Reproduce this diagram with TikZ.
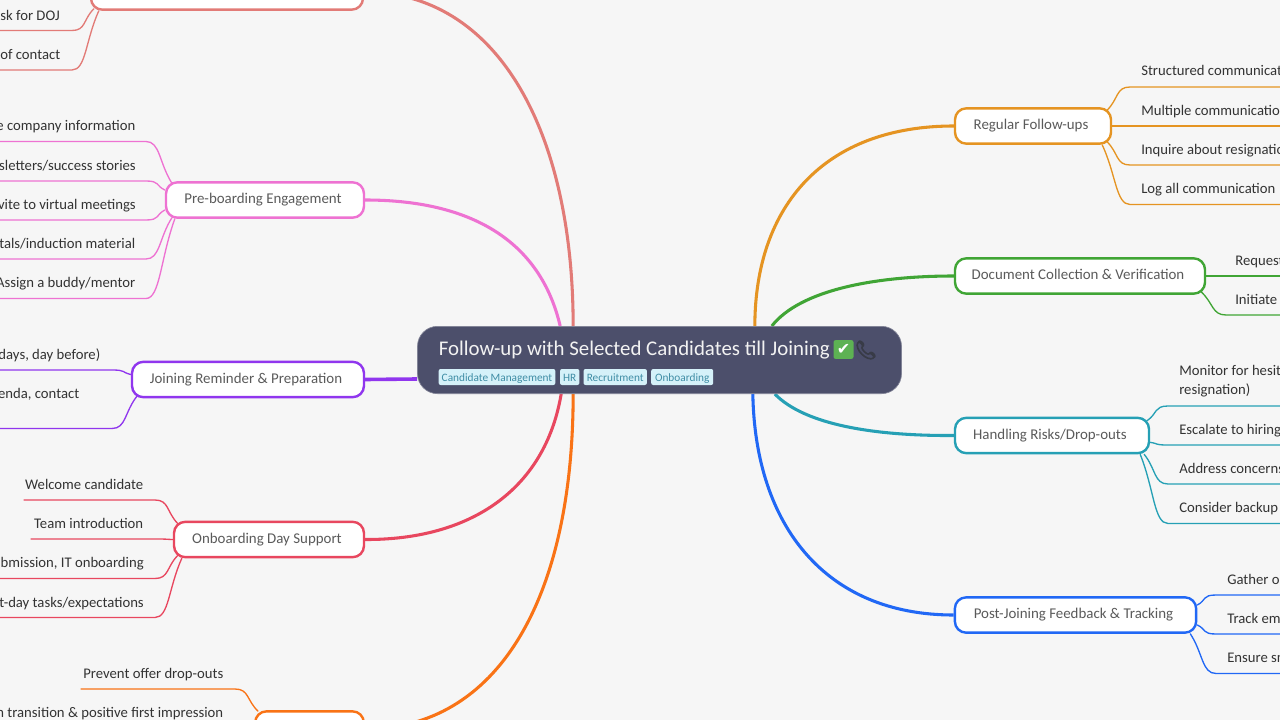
\documentclass[tikz,border=0pt]{standalone}
\usepackage{fontspec}
\setmainfont{Carlito}[Scale=1.04]
\newfontfamily\emo{Noto Emoji}
\newfontfamily\dej{DejaVu Sans}[Scale=1]
\usetikzlibrary{calc,backgrounds}
\definecolor{bgc}{HTML}{F6F6F6}
\definecolor{cen}{HTML}{4C4F6B}
\definecolor{chipf}{HTML}{D5F1F9}
\definecolor{chipt}{HTML}{3F8DA5}
\definecolor{ntxt}{HTML}{5A5A5A}
\definecolor{ltxt}{HTML}{333333}
\definecolor{csal}{HTML}{E27B77}
\definecolor{cpnk}{HTML}{EE72D2}
\definecolor{cpur}{HTML}{9036EE}
\definecolor{cred}{HTML}{E8475F}
\definecolor{cora}{HTML}{F97316}
\definecolor{camb}{HTML}{E59422}
\definecolor{cgrn}{HTML}{40A535}
\definecolor{ctea}{HTML}{26A0B5}
\definecolor{cblu}{HTML}{2168F5}
\tikzset{
  x=0.75pt,y=-0.75pt,
  branch/.style={draw=#1,fill=white,line width=1.8pt,rounded corners=8.5pt,inner sep=0pt,text=ntxt,font=\fontsize{10.75pt}{13pt}\selectfont,minimum height=26.5pt,text height=8pt,text depth=2.5pt,execute at end node={\hspace{3pt}}},
  kidline/.style={draw=#1,line width=1pt,line cap=round},
  trunk/.style={draw=#1,line width=2.3pt},
  leafl/.style={anchor=east,inner sep=0pt,text=ltxt,yshift=-1.4pt,text height=8pt,text depth=2.8pt,font=\fontsize{10.6pt}{14.4pt}\selectfont},
  leafr/.style={anchor=west,inner sep=0pt,text=ltxt,yshift=-1.4pt,text height=8pt,text depth=2.8pt,font=\fontsize{10.6pt}{14.4pt}\selectfont},
  chip/.style={fill=chipf,text=chipt,rounded corners=1.5pt,inner sep=0pt,minimum height=12pt,text height=8pt,text depth=1.2pt,font=\fontsize{8.15pt}{10pt}\selectfont},
}
% colour, start, bend x, y, far x, end name
\newcommand{\kid}[6]{%
  \coordinate (#6) at (#5,#4);
  \coordinate (#6b) at (#3,#4);
  \coordinate (#6s) at #2;
  \pgfmathsetmacro{\dirsign}{#5>#3?1:-1}
  \draw[kidline=#1] (#6s) .. controls ($(#6s)!0.5!(#6b)$) and ($(#6b)+(-14*\dirsign,0)$) .. (#6b) -- (#6);}
\begin{document}
\begin{tikzpicture}
\useasboundingbox (0,0) rectangle (1280,720);

% centre
\node[fill=cen,draw=cen!70!white,line width=0.5pt,rounded corners=15pt,minimum width=363pt,minimum height=50.5pt,inner sep=0pt] (root) at (659.5,360) {};
\node[anchor=west,inner sep=0pt,text=white!95!black,font=\fontsize{15.05pt}{18pt}\selectfont] (title) at (438.5,349.7) {Follow-up with Selected Candidates till Joining};
\node[fill=cgrn!85!white,rounded corners=1.5pt,minimum width=15pt,minimum height=14pt,inner sep=0pt,text=white,font=\dej\fontsize{12pt}{12pt}\selectfont] (chk) at (843.5,349.5) {✔};
\node[inner sep=0pt,font=\emo\fontsize{13.5pt}{15pt}\selectfont] (phone) at (866,350) {\special{pdf:code q 2 Tr 0.7 w 0.22 0.23 0.28 RG 0.22 0.23 0.28 rg}📞\special{pdf:code Q}};
\node[chip,minimum width=87.5pt] (t1) at (497,377) {Candidate Management};
\node[chip,minimum width=14.5pt] (t2) at (569.7,377) {HR};
\node[chip,minimum width=47.5pt] (t3) at (615.2,377) {Recruitment};
\node[chip,minimum width=46.5pt] (t4) at (682.2,377) {Onboarding};

% branch nodes, right
\node[branch=camb,minimum width=117pt] (reg) at (1033,126) {Regular Follow-ups};
\node[branch=cgrn,minimum width=187.5pt] (doc) at (1080,276) {Document Collection \& Verification};
\node[branch=ctea,minimum width=145.5pt] (risk) at (1052,435.5) {Handling Risks/Drop-outs};
\node[branch=cblu,minimum width=181pt] (post) at (1075.5,615) {Post-Joining Feedback \& Tracking};
% branch nodes, left
\node[branch=csal,minimum width=204pt] (top) at (227,-8) {};
\node[branch=cpnk,minimum width=148.5pt] (pre) at (265,200) {Pre-boarding Engagement};
\node[branch=cpur,minimum width=174pt] (join) at (248,379.5) {Joining Reminder \& Preparation};
\node[branch=cred,minimum width=142.5pt] (onb) at (269,539.5) {Onboarding Day Support};
\node[branch=cora,minimum width=81.5pt] (goal) at (309.5,729) {};

% leaf texts
\node[leafr] (a1) at (1141,70.5) {Structured communicat};
\node[leafr] (a2) at (1141,110) {Multiple communicatio};
\node[leafr] (a3) at (1141,149) {Inquire about resignatio};
\node[leafr] (a4) at (1141,188.5) {Log all communication};
\node[leafr] (b1) at (1235,260) {Request};
\node[leafr] (b2) at (1235,299) {Initiate};
\node[leafr] (c1) at (1179,370.5) {Monitor for hesita};
\node[leafr] (c1b) at (1179,389.5) {resignation)};
\node[leafr] (c2) at (1179,429) {Escalate to hiring};
\node[leafr] (c3) at (1179,468.5) {Address concerns};
\node[leafr] (c4) at (1179,507.5) {Consider backup};
\node[leafr] (d1) at (1227,579) {Gather or};
\node[leafr] (d2) at (1227,618) {Track em};
\node[leafr] (d3) at (1227,657.5) {Ensure sm};
\node[leafl] (e1) at (60,15) {ask for DOJ};
\node[leafl] (e2) at (60.5,54) {of contact};
\node[leafl] (f1) at (135.5,125.5) {e company information};
\node[leafl] (f2) at (136,165) {sletters/success stories};
\node[leafl] (f3) at (136,204) {vite to virtual meetings};
\node[leafl] (f4) at (135.5,243.5) {tals/induction material};
\node[leafl] (f5) at (135.5,282.5) {Assign a buddy/mentor};
\node[leafl] (g1) at (100.5,354) {days, day before)};
\node[leafl] (g2) at (79.5,393.5) {enda, contact};
\node[leafl] (h1) at (143.5,484) {Welcome candidate};
\node[leafl] (h2) at (143.5,523.5) {Team introduction};
\node[leafl] (h3) at (144,562.5) {bmission, IT onboarding};
\node[leafl] (h4) at (144,602) {t-day tasks/expectations};
\node[leafl] (i1) at (223.5,673.5) {Prevent offer drop-outs};
\node[leafl] (i2) at (223.5,712.5) {n transition \& positive first impression};

\begin{pgfonlayer}{background}
\fill[bgc] (0,0) rectangle (1280,720);
% trunks
\draw[trunk=camb] ($(root.north east)+(-147,0)$) .. controls (755,205) and (825,126) .. (reg.west);
\draw[trunk=cgrn] ($(root.north east)+(-130,0)$) .. controls (800,290) and (875,276) .. (doc.west);
\draw[trunk=ctea] ($(root.south east)+(-127,0)$) .. controls (805,425) and (875,436) .. (risk.west);
\draw[trunk=cblu] ($(root.south east)+(-149,0)$) .. controls (755,525) and (825,615) .. (post.west);
\draw[trunk=csal] ($(root.north west)+(156,0)$) .. controls (573,130) and (497,-8) .. (top.east);
\draw[trunk=cpnk] ($(root.north west)+(143,0)$) .. controls (540,240) and (470,200) .. (pre.east);
\draw[trunk=cpur,line width=2.7pt] (join.east) -- ($(root.west)+(0,19)$);
\draw[trunk=cred] ($(root.south west)+(144,0)$) .. controls (545,490) and (470,540) .. (onb.east);
\draw[trunk=cora] ($(root.south west)+(156,0)$) .. controls (573,600) and (497,729) .. (goal.east);
% children
\kid{camb}{($(reg.north east)+(-5,3)$)}{1130}{87}{1285}{ea1}
\kid{camb}{(reg.east)}{1130}{126}{1285}{ea2}
\kid{camb}{($(reg.south east)+(-5,-3)$)}{1130}{165}{1285}{ea3}
\kid{camb}{($(reg.south east)+(-10,0)$)}{1130}{204.5}{1285}{ea4}
\kid{cgrn}{(doc.east)}{1226}{276}{1285}{eb1}
\kid{cgrn}{($(doc.south east)+(-5,-3)$)}{1226}{315}{1285}{eb2}
\kid{ctea}{($(risk.north east)+(-3,4)$)}{1168}{406}{1285}{ec1}
\kid{ctea}{($(risk.south east)+(0,-12)$)}{1168}{445}{1285}{ec2}
\kid{ctea}{($(risk.south east)+(-6,0)$)}{1168}{484}{1285}{ec3}
\kid{ctea}{($(risk.south east)+(-10,0)$)}{1168}{523.5}{1285}{ec4}
\kid{cblu}{($(post.east)+(0,-10)$)}{1216}{595}{1285}{ed1}
\kid{cblu}{($(post.east)+(0,10)$)}{1216}{634}{1285}{ed2}
\kid{cblu}{($(post.south east)+(-7,0)$)}{1216}{673.5}{1285}{ed3}
\kid{csal}{($(top.south west)+(4,-2)$)}{72}{30.5}{-5}{ee1}
\kid{csal}{($(top.south west)+(9,0)$)}{72}{70}{-5}{ee2}
\kid{cpnk}{($(pre.north west)+(7,2)$)}{146}{141.5}{-5}{ef1}
\kid{cpnk}{($(pre.west)+(0,-10)$)}{146}{181}{-5}{ef2}
\kid{cpnk}{($(pre.west)+(0,10)$)}{146}{220}{-5}{ef3}
\kid{cpnk}{($(pre.south west)+(7,-1)$)}{146}{259}{-5}{ef4}
\kid{cpnk}{($(pre.south west)+(10,0)$)}{146}{298.5}{-5}{ef5}
\kid{cpur}{($(join.west)+(0,-5)$)}{112}{370}{-5}{eg1}
\kid{cpur}{($(join.south west)+(6,-2)$)}{112}{428.5}{-5}{eg2}
\kid{cred}{($(onb.north west)+(5,3)$)}{155}{500}{24}{eh1}
\kid{cred}{(onb.west)}{155}{539}{31}{eh2}
\kid{cred}{($(onb.south west)+(5,-3)$)}{155}{578.5}{-5}{eh3}
\kid{cred}{($(onb.south west)+(9,0)$)}{155}{617.5}{-5}{eh4}
\kid{cora}{($(goal.north west)+(4,1)$)}{235}{689}{81}{ei1}
\kid{cora}{(goal.west)}{235}{728}{-5}{ei2}
\end{pgfonlayer}
\end{tikzpicture}
\end{document}
